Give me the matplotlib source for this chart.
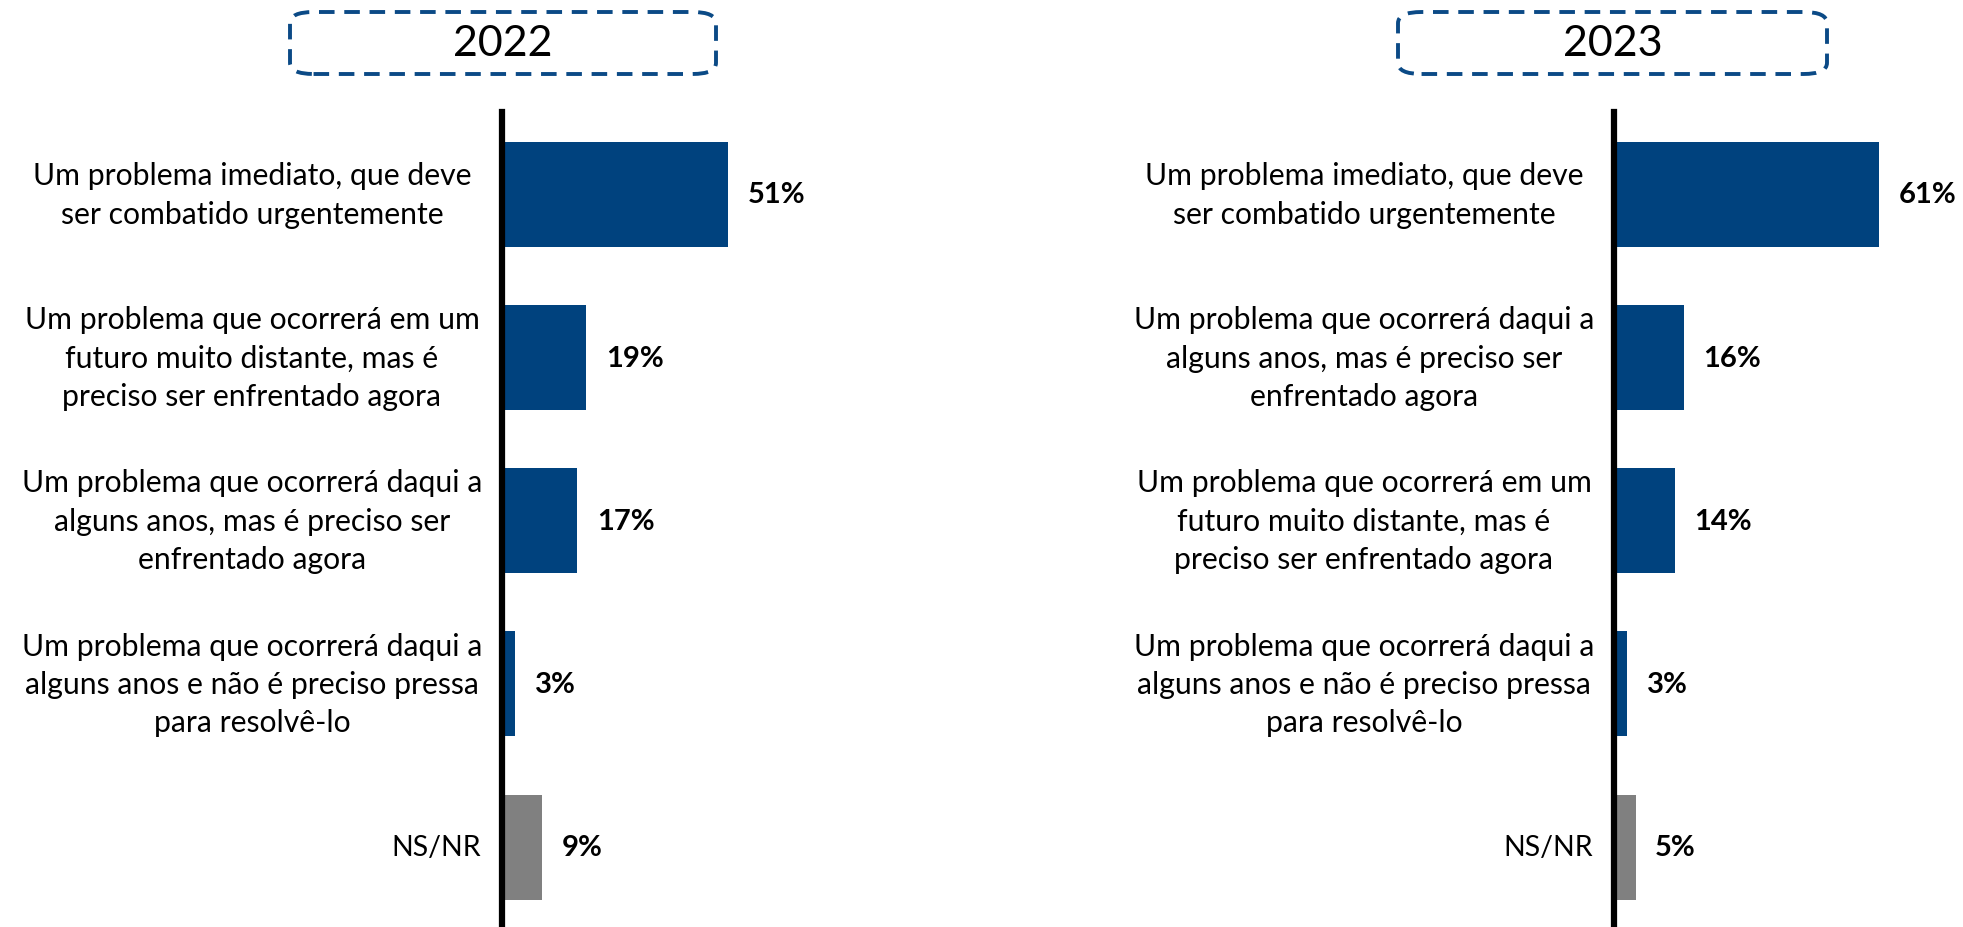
import matplotlib
matplotlib.use('Agg')
import matplotlib.pyplot as plt
from matplotlib.patches import FancyBboxPatch

# dados
labels_2022 = ['Um problema imediato, que deve\nser combatido urgentemente',
               'Um problema que ocorrerá em um\nfuturo muito distante, mas é\npreciso ser enfrentado agora',
               'Um problema que ocorrerá daqui a\nalguns anos, mas é preciso ser\nenfrentado agora',
               'Um problema que ocorrerá daqui a\nalguns anos e não é preciso pressa\npara resolvê-lo',
               'NS/NR']
values_2022 = [51, 19, 17, 3, 9]

labels_2023 = ['Um problema imediato, que deve\nser combatido urgentemente',
               'Um problema que ocorrerá daqui a\nalguns anos, mas é preciso ser\nenfrentado agora',
               'Um problema que ocorrerá em um\nfuturo muito distante, mas é\npreciso ser enfrentado agora',
               'Um problema que ocorrerá daqui a\nalguns anos e não é preciso pressa\npara resolvê-lo',
               'NS/NR']
values_2023 = [61, 16, 14, 3, 5]

years = ['2022', '2023']

BLUE = '#00427E'
GRAY = '#808080'
FONT = 'Lato'

fig = plt.figure(figsize=(19.63, 9.28), dpi=100)


def draw_panel(left, xmax, labels, values):
    ax = fig.add_axes([left, 0.0, 0.17, 0.878])
    colors = [GRAY if l == 'NS/NR' else BLUE for l in labels]
    ax.barh(range(len(values)), values, height=0.644, color=colors)
    ax.set_ylim(4.49, -0.504)
    ax.set_xlim(0, xmax)
    for s in ['top', 'right', 'bottom']:
        ax.spines[s].set_visible(False)
    ax.spines['left'].set_linewidth(4.5)
    ax.spines['left'].set_color('black')
    ax.set_xticks([])
    ax.set_yticks([])
    for i, (lab, v) in enumerate(zip(labels, values)):
        ax.annotate(f'{v}%', xy=(v, i), xytext=(14, 0), textcoords='offset points',
                    ha='left', va='center', fontsize=21, fontweight='bold', family=FONT)
        if lab == 'NS/NR':
            ax.annotate(lab, xy=(0, i), xycoords=('axes fraction', 'data'), xytext=(-15, 0),
                        textcoords='offset points', ha='right', va='center', fontsize=20.5,
                        family=FONT)
        else:
            ax.annotate(lab, xy=(0, i), xycoords=('axes fraction', 'data'), xytext=(-180, 0),
                        textcoords='offset points', ha='center', va='center', fontsize=21.7,
                        family=FONT, multialignment='center', linespacing=1.45)
    return ax


draw_panel(502 / 1963, 75.2, labels_2022, values_2022)
draw_panel(1614 / 1963, 76.7, labels_2023, values_2023)

# caixas dos anos
boxes = [(290, 716), (1398, 1827)]
for (x0, x1), yr in zip(boxes, years):
    y0, y1 = 928 - 75, 928 - 13
    box = FancyBboxPatch((x0 / 1963, y0 / 928), (x1 - x0) / 1963, (y1 - y0) / 928,
                         boxstyle='round,pad=0,rounding_size=0.012', transform=fig.transFigure,
                         fill=False, edgecolor='#0B4A86', linewidth=2.8, linestyle=(0, (4, 2.5)))
    fig.add_artist(box)
    fig.text((x0 + x1) / 2 / 1963, (928 - 44) / 928, yr, ha='center', va='center',
             fontsize=31, family=FONT)

fig.savefig('out.png', dpi=100)
